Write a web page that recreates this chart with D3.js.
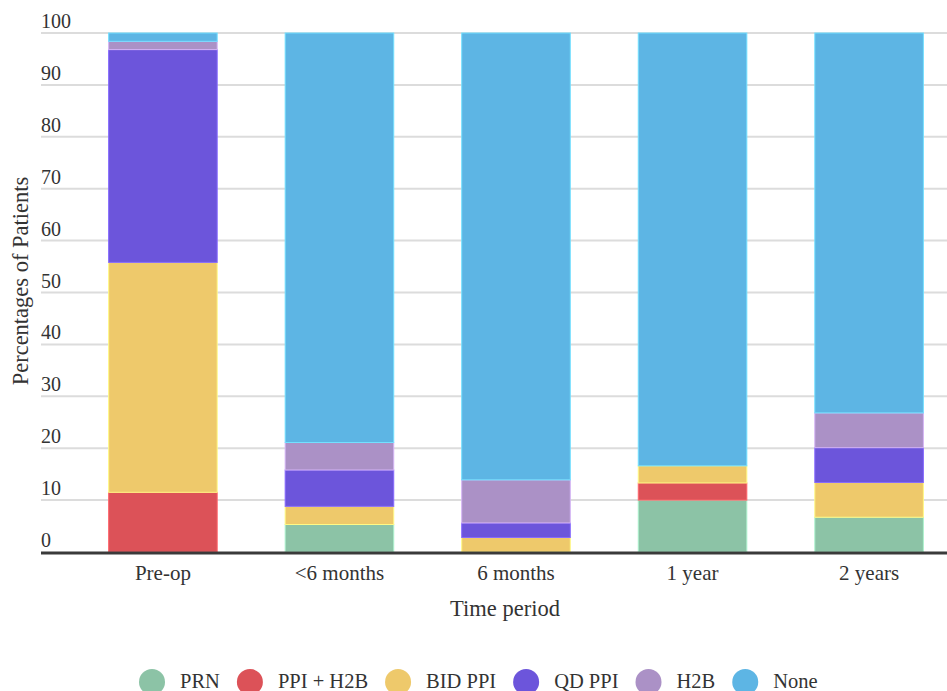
<!DOCTYPE html>
<html>
<head>
<meta charset="utf-8">
<script src="https://cdn.jsdelivr.net/npm/d3@7"></script>
<style>
  html, body { margin: 0; padding: 0; background: #fff; }
  svg { display: block; }
</style>
</head>
<body>
<svg id="chart" width="947" height="691" font-family="Liberation Serif"></svg>
<script>
// Time periods on the x axis
const periods = ["Pre-op", "<6 months", "6 months", "1 year", "2 years"];

// Medication groups, stacked bottom to top
const groups = ["PRN", "PPI + H2B", "BID PPI", "QD PPI", "H2B", "None"];
const groupColors = ["#8cc3a6", "#dc5258", "#eec96b", "#6c55db", "#ab91c6", "#5db5e4"];

// Percentage of patients per group, one value per period
const prn     = [0,    5.3,  0,    10.0, 6.7];
const ppiH2b  = [11.5, 0,    0,    3.3,  0];
const bidPpi  = [44.3, 3.5,  2.8,  3.3,  6.7];
const qdPpi   = [41.0, 7.0,  2.8,  0,    6.7];
const h2b     = [1.6,  5.3,  8.3,  0,    6.7];
const none    = [1.6,  78.9, 86.1, 83.4, 73.2];

const yTicks = [0, 10, 20, 30, 40, 50, 60, 70, 80, 90, 100];

const FONT = "Liberation Serif";
const TEXT_COLOR = "#333";

const seriesValues = [prn, ppiH2b, bidPpi, qdPpi, h2b, none];
const rows = periods.map((p, i) => {
  const r = { period: p };
  groups.forEach((g, k) => { r[g] = seriesValues[k][i]; });
  return r;
});

const svg = d3.select("#chart");
const W = 947;
const plotLeft = 41, plotTop = 33, plotBottom = 552;

const x = d3.scaleBand()
  .domain(periods)
  .range([plotLeft, 991])
  .paddingInner(0.385)
  .paddingOuter(0.383);

const y = d3.scaleLinear().domain([0, 100]).range([plotBottom, plotTop]);
const color = d3.scaleOrdinal().domain(groups).range(groupColors);

function styleText(sel, size) {
  return sel.attr("font-family", FONT)
    .attr("font-size", size)
    .attr("fill", TEXT_COLOR);
}

// Horizontal gridlines
svg.append("g")
  .selectAll("line")
  .data(yTicks.filter(t => t > 0))
  .join("line")
  .attr("x1", plotLeft).attr("x2", W)
  .attr("y1", d => y(d)).attr("y2", d => y(d))
  .attr("stroke", "#dcdcdc")
  .attr("stroke-width", 2);

// Y tick labels sit just above their gridlines
svg.append("g")
  .selectAll("text")
  .data(yTicks)
  .join("text")
  .attr("x", plotLeft)
  .attr("y", d => y(d) - 5)
  .call(styleText, 20)
  .text(d => d);

// Stacked bars
const stack = d3.stack().keys(groups)(rows);
svg.append("g")
  .selectAll("g")
  .data(stack)
  .join("g")
  .attr("fill", d => color(d.key))
  .attr("stroke", d => d3.color(color(d.key)).brighter(0.6))
  .selectAll("rect")
  .data(d => d.filter(s => s[1] - s[0] > 0))
  .join("rect")
  .attr("x", d => x(d.data.period))
  .attr("width", x.bandwidth())
  .attr("y", d => y(d[1]))
  .attr("height", d => y(d[0]) - y(d[1]))
  .attr("stroke-width", 1);

// Baseline
svg.append("line")
  .attr("x1", plotLeft).attr("x2", W)
  .attr("y1", plotBottom + 1).attr("y2", plotBottom + 1)
  .attr("stroke", "#3a3a3a")
  .attr("stroke-width", 3);

// X axis labels
const xAxis = d3.axisBottom(x).tickSize(0).tickPadding(0);
const xg = svg.append("g")
  .attr("transform", `translate(0,${plotBottom})`)
  .call(xAxis)
  .attr("font-family", FONT)
  .attr("font-size", 21);
xg.select(".domain").remove();
xg.selectAll("text")
  .call(styleText, 21)
  .attr("dy", null)
  .attr("y", 28);

// Axis titles
svg.append("text")
  .attr("x", 505).attr("y", 616)
  .attr("text-anchor", "middle")
  .call(styleText, 22.5)
  .text("Time period");

svg.append("text")
  .attr("transform", "translate(27.5,281) rotate(-90)")
  .attr("text-anchor", "middle")
  .call(styleText, 22.5)
  .text("Percentages of Patients");

// Legend laid out left to right
const legend = svg.append("g");
let cx = 152;
groups.forEach((g) => {
  legend.append("circle")
    .attr("cx", cx).attr("cy", 682).attr("r", 13)
    .attr("fill", color(g));
  const t = legend.append("text")
    .attr("x", cx + 28).attr("y", 688)
    .call(styleText, 20.5)
    .text(g);
  const w = t.node().getComputedTextLength();
  cx = cx + 28 + w + 30;
});
</script>
</body>
</html>
